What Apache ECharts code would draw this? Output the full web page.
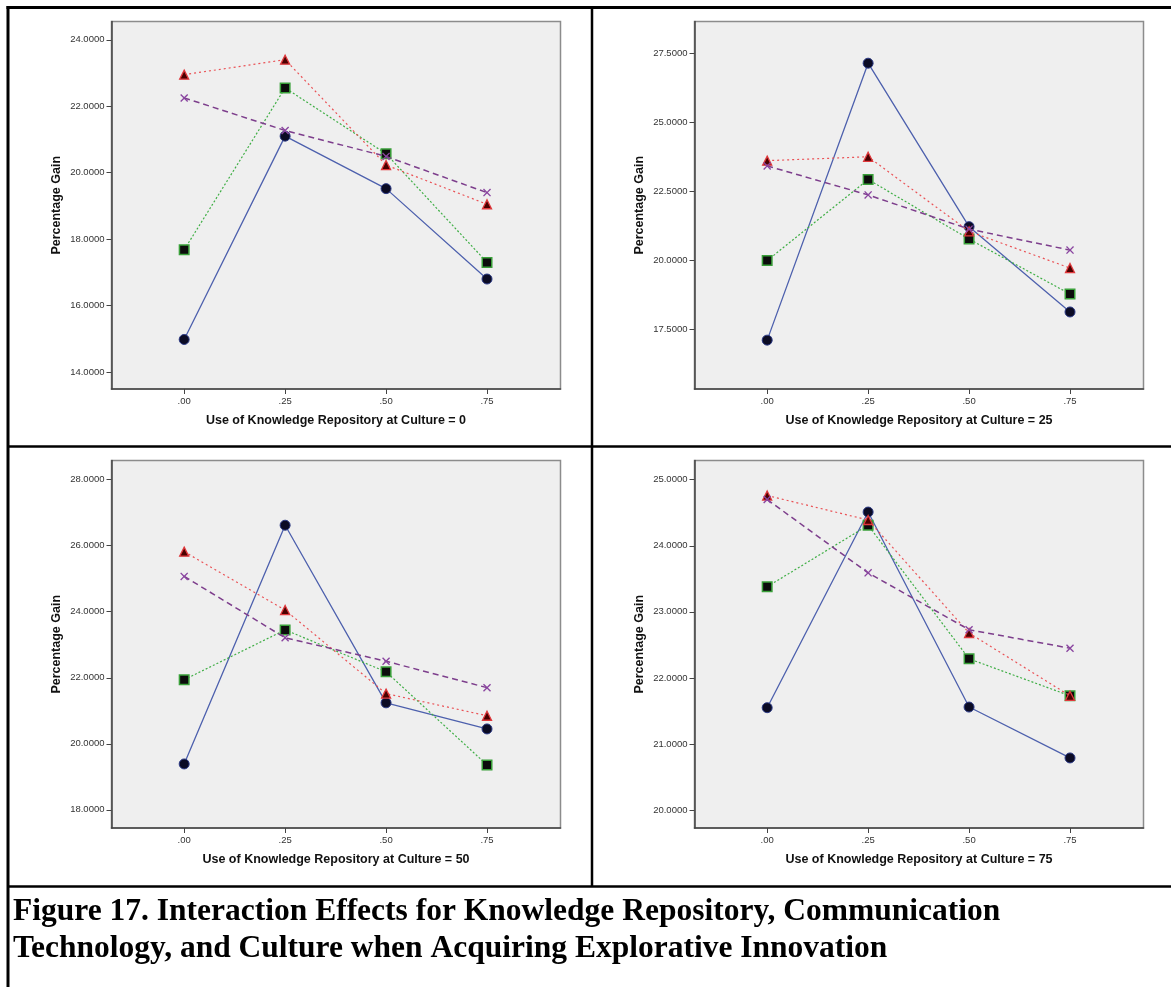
<!DOCTYPE html>
<html><head><meta charset="utf-8">
<script src="https://cdn.jsdelivr.net/npm/echarts@6/dist/echarts.min.js"></script>
<style>html,body{margin:0;padding:0;background:#fff}#c{width:1171px;height:987px}</style>
</head><body><div id="c"></div>
<script>
// ---------- data ----------
const xValues = [0, 0.25, 0.5, 0.75];
const xTickLabels = ['.00', '.25', '.50', '.75'];
const yAxisTitle = 'Percentage Gain';
const panelTitles = [
  'Use of Knowledge Repository at Culture = 0',
  'Use of Knowledge Repository at Culture = 25',
  'Use of Knowledge Repository at Culture = 50',
  'Use of Knowledge Repository at Culture = 75'
];
const captionText = 'Figure 17. Interaction Effects for Knowledge Repository, Communication\nTechnology, and Culture when Acquiring Explorative Innovation';

// y tick values per panel
const yTicks0 = [14, 16, 18, 20, 22, 24];
const yTicks25 = [17.5, 20, 22.5, 25, 27.5];
const yTicks50 = [18, 20, 22, 24, 26, 28];
const yTicks75 = [20, 21, 22, 23, 24, 25];
// y axis ranges per panel
const yRange0 = [13.49, 24.55];
const yRange25 = [15.34, 28.65];
const yRange50 = [17.45, 28.58];
const yRange75 = [19.73, 25.29];

// series values (circle / square / triangle / cross) per panel
const circle0 = [14.98, 21.10, 19.52, 16.80];
const square0 = [17.68, 22.55, 20.57, 17.30];
const triangle0 = [22.95, 23.40, 20.23, 19.05];
const cross0 = [22.25, 21.27, 20.49, 19.40];

const circle25 = [17.11, 27.14, 21.22, 18.13];
const square25 = [19.99, 22.93, 20.77, 18.78];
const triangle25 = [23.61, 23.75, 21.05, 19.72];
const cross25 = [23.42, 22.37, 21.13, 20.37];

const circle50 = [19.39, 26.62, 21.24, 20.45];
const square50 = [21.94, 23.45, 22.18, 19.36];
const triangle50 = [25.82, 24.05, 21.52, 20.85];
const cross50 = [25.07, 23.21, 22.50, 21.70];

const circle75 = [21.55, 24.51, 21.56, 20.79];
const square75 = [23.38, 24.31, 22.29, 21.73];
const triangle75 = [24.76, 24.39, 22.68, 21.73];
const cross75 = [24.70, 23.59, 22.73, 22.45];

// ---------- build ----------
const panels = [
  {ticks: yTicks0, range: yRange0, s: [circle0, square0, triangle0, cross0]},
  {ticks: yTicks25, range: yRange25, s: [circle25, square25, triangle25, cross25]},
  {ticks: yTicks50, range: yRange50, s: [circle50, square50, triangle50, cross50]},
  {ticks: yTicks75, range: yRange75, s: [circle75, square75, triangle75, cross75]}
];
const gridPos = [
  {left: 111.5, top: 21.5},
  {left: 694.5, top: 21.5},
  {left: 111.5, top: 460.5},
  {left: 694.5, top: 460.5}
];
const crossPath = 'path://M0,1.2L1.2,0L5,3.8L8.8,0L10,1.2L6.2,5L10,8.8L8.8,10L5,6.2L1.2,10L0,8.8L3.8,5Z';
const styles = [
  {line: {color: '#4d60ad', width: 1.3, type: 'solid'}, symbol: 'circle', size: 10, item: {color: '#0b0b24', borderColor: '#2c3a86', borderWidth: 1}},
  {line: {color: '#3fae45', width: 1.2, type: [2, 2]}, symbol: 'rect', size: 9.5, item: {color: '#0c0c0c', borderColor: '#3aa03a', borderWidth: 1.5}},
  {line: {color: '#ea5256', width: 1.2, type: [2, 3]}, symbol: 'triangle', size: 9, item: {color: '#4a0000', borderColor: '#e0383c', borderWidth: 1.3}},
  {line: {color: '#7d3e8c', width: 1.5, type: [6, 4]}, symbol: crossPath, size: 8, item: {color: '#8a45a0', borderWidth: 0}}
];
const seriesNames = ['circle', 'square', 'triangle', 'cross'];
const labelFont = 'Liberation Sans, Arial, sans-serif';

const grids = [], xAxes = [], yAxes = [], series = [];
panels.forEach((p, i) => {
  grids.push({
    left: gridPos[i].left, top: gridPos[i].top, width: 449, height: 367.5,
    show: true, backgroundColor: '#efefef', borderColor: '#8c8c8c', borderWidth: 1.5
  });
  xAxes.push({
    type: 'value', gridIndex: i, min: -0.18, max: 0.932,
    name: panelTitles[i], nameLocation: 'middle', nameGap: 25,
    nameTextStyle: {fontFamily: labelFont, fontWeight: 'bold', fontSize: 12.5, color: '#111'},
    axisLine: {show: true, onZero: false, lineStyle: {color: '#444', width: 1.5}},
    axisTick: {show: true, length: 5, customValues: xValues, lineStyle: {color: '#444'}},
    axisLabel: {customValues: xValues, margin: 7, fontSize: 9.5, color: '#333', fontFamily: labelFont,
      formatter: v => xTickLabels[xValues.findIndex(x => Math.abs(x - v) < 1e-6)]},
    splitLine: {show: false}
  });
  yAxes.push({
    type: 'value', gridIndex: i, min: p.range[0], max: p.range[1],
    name: yAxisTitle, nameLocation: 'middle', nameGap: 48, nameRotate: 90,
    nameTextStyle: {fontFamily: labelFont, fontWeight: 'bold', fontSize: 12.5, color: '#111'},
    axisLine: {show: true, onZero: false, lineStyle: {color: '#444', width: 1.5}},
    axisTick: {show: true, length: 5, customValues: p.ticks, lineStyle: {color: '#444'}},
    axisLabel: {customValues: p.ticks, margin: 7, fontSize: 9.5, color: '#333', fontFamily: labelFont,
      formatter: v => v.toFixed(4)},
    splitLine: {show: false}
  });
  p.s.forEach((vals, k) => {
    const st = styles[k];
    series.push({
      type: 'line', name: seriesNames[k], xAxisIndex: i, yAxisIndex: i,
      data: xValues.map((x, j) => [x, vals[j]]),
      symbol: st.symbol, symbolSize: st.size, showSymbol: true,
      lineStyle: st.line, itemStyle: st.item, z: 2 + k,
      animation: false
    });
  });
});

const frame = [
  [6.5, 7.5, 1171, 7.5, 3],
  [8, 6, 8, 987, 3],
  [592, 7, 592, 887, 2.5],
  [7, 446.5, 1171, 446.5, 2.5],
  [7, 886.5, 1171, 886.5, 2.5]
].map(a => ({type: 'line', shape: {x1: a[0], y1: a[1], x2: a[2], y2: a[3]}, style: {stroke: '#000', lineWidth: a[4]}, silent: true}));

const chart = echarts.init(document.getElementById('c'), null, {renderer: 'canvas'});
chart.setOption({
  animation: false,
  backgroundColor: '#fff',
  title: {
    text: captionText, left: 13, top: 893, padding: 0,
    textStyle: {fontFamily: 'Liberation Serif, Times New Roman, serif', fontWeight: 'bold', fontSize: 31.5, lineHeight: 37, color: '#000'}
  },
  grid: grids, xAxis: xAxes, yAxis: yAxes, series: series,
  graphic: frame
});
</script></body></html>
